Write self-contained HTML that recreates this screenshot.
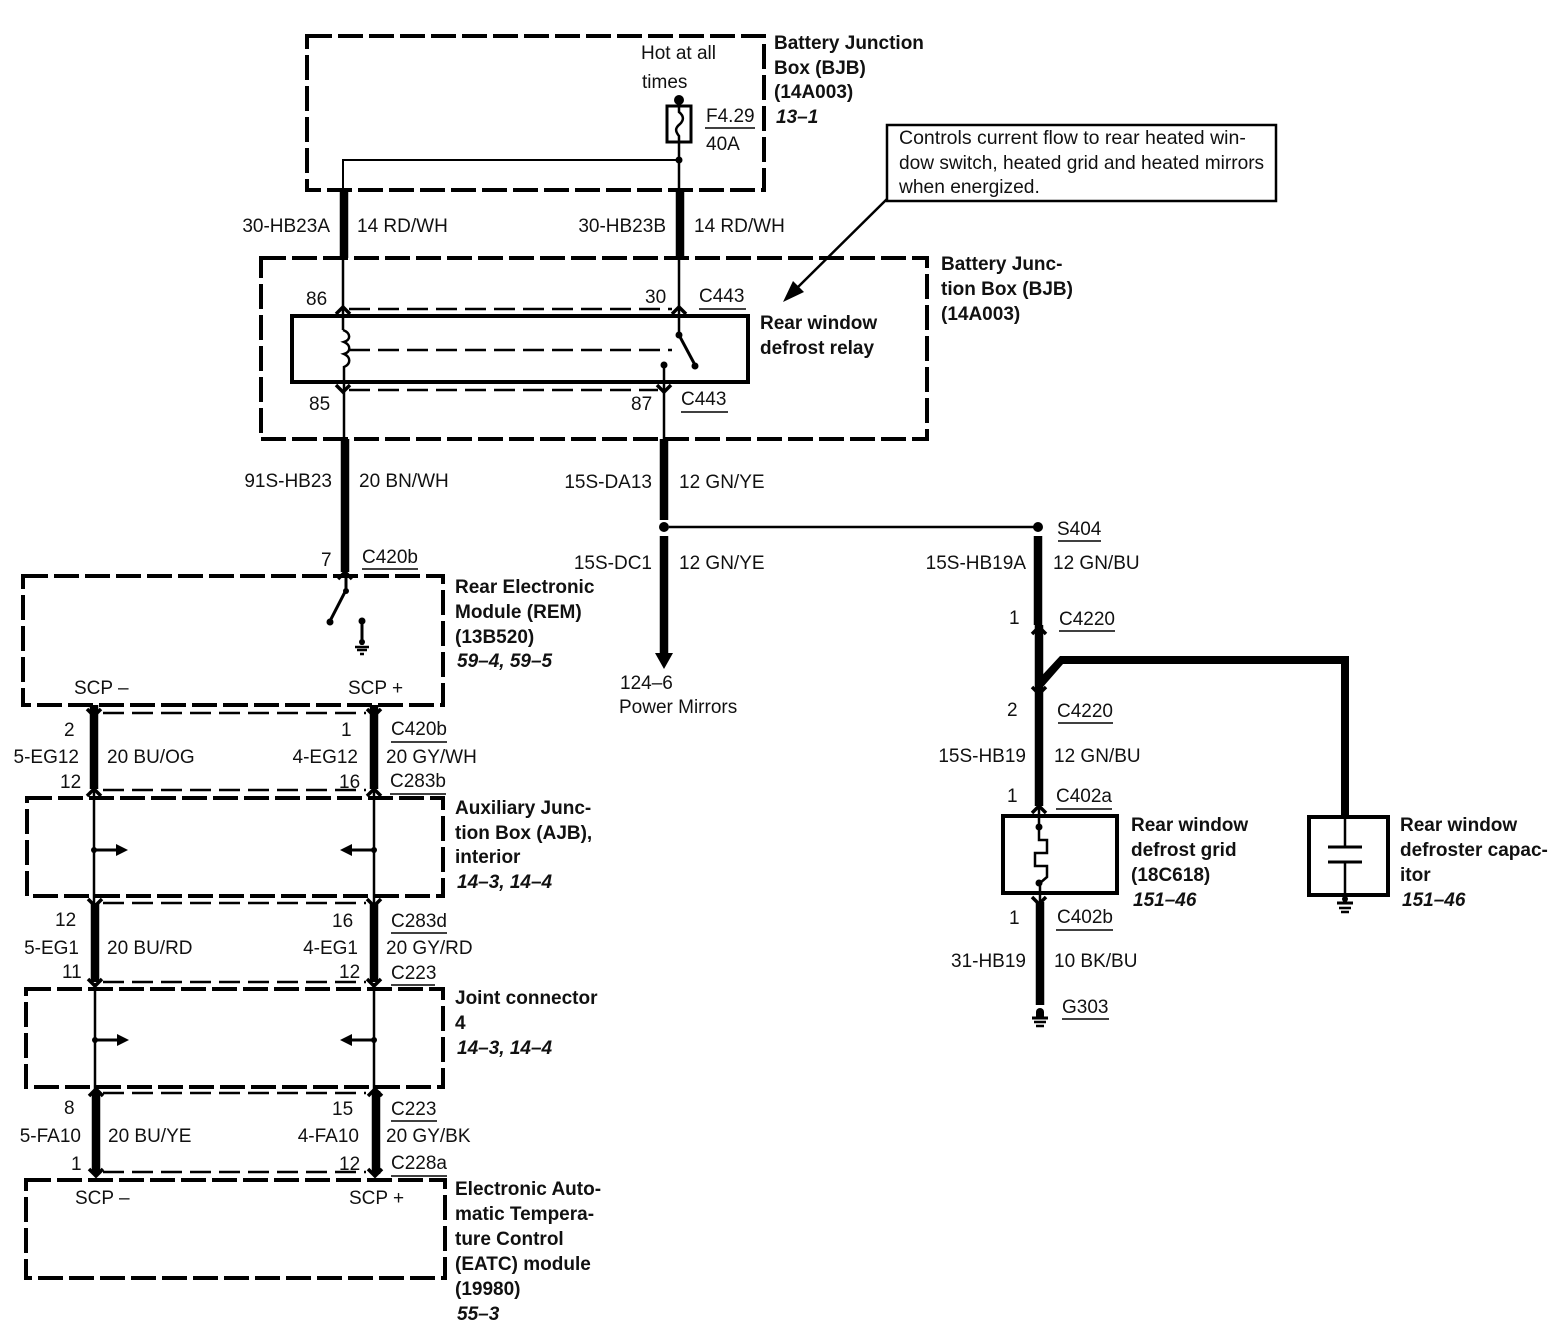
<!DOCTYPE html>
<html><head><meta charset="utf-8"><style>
html,body{margin:0;padding:0;background:#fff}
svg{display:block}
text{font-family:"Liberation Sans",sans-serif;font-size:19px;fill:#111}
.b{font-weight:bold;font-size:19px}
.i{font-weight:bold;font-style:italic;font-size:19px}
.e{text-anchor:end}
.box{fill:none;stroke:#000;stroke-width:4;stroke-dasharray:25 6}
.d{fill:none;stroke:#000;stroke-width:2.5;stroke-dasharray:21 8}
.t{fill:none;stroke:#000;stroke-width:2.5}
.k{fill:none;stroke:#000;stroke-width:8.5}
.s{fill:none;stroke:#000;stroke-width:4}
.c{fill:none;stroke:#000;stroke-width:3}
</style></head><body>
<svg width="1564" height="1344" viewBox="0 0 1564 1344" xmlns="http://www.w3.org/2000/svg">
<defs>
<path id="up" d="M-7 5L0 -2L7 5" fill="none" stroke="#000" stroke-width="3.5"/>
<path id="dn" d="M-7 -5L0 2L7 -5" fill="none" stroke="#000" stroke-width="3.5"/>
</defs>

<!-- dashed boxes -->
<rect class="box" x="307" y="36" width="457" height="154"/>
<rect class="box" x="261" y="258" width="666" height="181"/>
<rect class="box" x="23" y="576" width="420" height="129"/>
<rect class="box" x="27" y="798" width="416" height="98"/>
<rect class="box" x="26" y="989" width="417" height="98"/>
<rect class="box" x="26" y="1180" width="419" height="98"/>

<!-- solid boxes -->
<rect class="s" x="292" y="316" width="456" height="66"/>
<rect class="s" x="1003" y="816" width="114" height="77"/>
<rect class="s" x="1309" y="817" width="79" height="78"/>
<rect x="887" y="125" width="389" height="76" fill="#fff" stroke="#000" stroke-width="2.5"/>

<!-- top fuse -->
<circle cx="679" cy="100" r="5"/>
<rect class="c" x="667" y="106" width="24" height="36"/>
<path class="t" d="M679 100V112C684 116 684 120 680 124C675 128 675 131 679 136V190"/>
<circle cx="679" cy="160" r="3.5"/>
<path class="t" style="stroke-width:2" d="M343 190V160H679"/>

<!-- upper wires -->
<path class="k" d="M344 190V258M680 190V258"/>
<path class="t" d="M343 258V330M679 258V335"/>
<path class="d" d="M349 309H672M349 390H658"/>
<path class="d" d="M349 350H672"/>
<use href="#up" x="343" y="309"/><use href="#up" x="679" y="309"/>
<use href="#dn" x="343" y="390"/><use href="#dn" x="664" y="390"/>
<path class="t" d="M343 330C351 333 351 340 344 342C351 345 351 352 344 354C351 357 351 364 344 367V439"/>
<circle cx="679" cy="335" r="3.5"/>
<path class="c" d="M679 335L695 365"/>
<circle cx="695" cy="366" r="3.5"/>
<circle cx="664" cy="365" r="3.5"/>
<path class="t" d="M664 365V439"/>

<!-- relay outputs -->
<path class="k" d="M345 439V572M664 439V520M664 536V656"/>
<circle cx="664" cy="527" r="5"/>
<path class="t" d="M669 527H1038"/>
<circle cx="1038" cy="527" r="5"/>
<path d="M655 653H673L664 669Z"/>
<use href="#up" x="345" y="574"/>

<!-- REM internals -->
<path class="c" d="M346 576V590L330 621"/>
<circle cx="330" cy="622" r="3.5"/><circle cx="346" cy="591" r="3"/>
<circle cx="362" cy="621" r="3.5"/>
<path class="c" d="M362 621V645"/>
<circle cx="362" cy="642" r="3"/>
<path class="t" d="M355 647H369M357 650H367M360 654H364"/>

<!-- right wire -->
<path class="k" d="M1038 536V625M1039 625V806M1040 902V1005"/>
<path d="M1035 683L1060 656H1349V816H1341V664H1063L1042 688Z"/>
<use href="#up" x="1039" y="629"/><use href="#dn" x="1039" y="692"/>
<use href="#up" x="1039" y="808"/><use href="#dn" x="1039" y="902"/>
<path class="t" d="M1039 808V827L1039 840H1047V853H1035V866H1047V877L1040 883V902"/>
<circle cx="1039" cy="827" r="3.5"/><circle cx="1039" cy="883" r="3.5"/>
<circle cx="1040" cy="1012" r="4"/>
<path class="c" d="M1032 1018H1048"/><path class="t" d="M1034 1022H1046M1036 1026H1044"/>
<path d="M1036 1012H1044V1018H1036Z"/>

<!-- capacitor -->
<path class="c" d="M1328 847H1362M1328 862H1362"/>
<path class="t" d="M1345 816V847M1345 862V900"/>
<circle cx="1345" cy="899" r="3"/>
<path class="c" d="M1337 903H1353"/><path class="t" d="M1339 908H1351M1341 912H1349"/>

<!-- SCP wires -->
<path class="k" d="M94 705V789M374 705V789M95 903V982M374 903V982M96 1091V1174M376 1091V1174"/>
<path class="t" d="M94 790V905M374 790V905M95 983V1092M374 983V1092"/>
<path class="d" d="M103 713H366M103 790H366M103 903H366M103 982H366M103 1093H366M103 1172H366"/>
<use href="#dn" x="94" y="714"/><use href="#dn" x="374" y="714"/>
<use href="#up" x="94" y="791"/><use href="#up" x="374" y="791"/>
<use href="#dn" x="95" y="904"/><use href="#dn" x="374" y="904"/>
<use href="#dn" x="95" y="984"/><use href="#dn" x="374" y="984"/>
<use href="#up" x="96" y="1091"/><use href="#up" x="375" y="1091"/>
<use href="#dn" x="96" y="1174"/><use href="#dn" x="375" y="1174"/>

<!-- branch arrows -->
<g>
<circle cx="94" cy="850" r="3"/><path class="c" d="M94 850H118"/><path d="M116 844L128 850L116 856Z"/>
<circle cx="374" cy="850" r="3"/><path class="c" d="M374 850H350"/><path d="M352 844L340 850L352 856Z"/>
<circle cx="95" cy="1040" r="3"/><path class="c" d="M95 1040H119"/><path d="M117 1034L129 1040L117 1046Z"/>
<circle cx="374" cy="1040" r="3"/><path class="c" d="M374 1040H350"/><path d="M352 1034L340 1040L352 1046Z"/>
</g>

<!-- note arrow -->
<path class="t" d="M887 199L797 288"/>
<path d="M783 302L793 281L804 292Z"/>

<!-- underlines -->
<path class="t" style="stroke-width:1.5" d="M705 128H755M699 309H746M681 412H728M362 569H418M1058 541H1101M1059 631H1115M1058 723H1113M1056 809H1112M1056 930H1113M1062 1019H1109M391 742H447M390 794H446M391 933H447M391 985H435M391 1121H437M391 1176H447"/>

<!-- labels -->
<text x="641" y="59">Hot at all</text>
<text x="642" y="88">times</text>
<text x="706" y="122">F4.29</text>
<text x="706" y="150">40A</text>
<text class="b" x="774" y="49">Battery Junction</text>
<text class="b" x="774" y="74">Box (BJB)</text>
<text class="b" x="774" y="98">(14A003)</text>
<text class="i" x="776" y="123">13–1</text>

<text x="899" y="144" style="font-size:19.5px">Controls current flow to rear heated win-</text>
<text x="899" y="169" style="font-size:19.1px">dow switch, heated grid and heated mirrors</text>
<text x="899" y="193" style="font-size:19.2px">when energized.</text>

<text class="e" x="330" y="232">30-HB23A</text>
<text x="357" y="232">14 RD/WH</text>
<text class="e" x="666" y="232">30-HB23B</text>
<text x="694" y="232">14 RD/WH</text>

<text class="b" x="941" y="270">Battery Junc-</text>
<text class="b" x="941" y="295">tion Box (BJB)</text>
<text class="b" x="941" y="320">(14A003)</text>
<text class="b" x="760" y="329">Rear window</text>
<text class="b" x="760" y="354">defrost relay</text>

<text x="306" y="305">86</text>
<text x="645" y="303">30</text>
<text x="699" y="302">C443</text>
<text x="309" y="410">85</text>
<text x="631" y="410">87</text>
<text x="681" y="405">C443</text>

<text class="e" x="332" y="487">91S-HB23</text>
<text x="359" y="487">20 BN/WH</text>
<text class="e" x="652" y="488">15S-DA13</text>
<text x="679" y="488">12 GN/YE</text>
<text class="e" x="652" y="569">15S-DC1</text>
<text x="679" y="569">12 GN/YE</text>
<text x="1057" y="535">S404</text>
<text class="e" x="1026" y="569">15S-HB19A</text>
<text x="1053" y="569">12 GN/BU</text>
<text x="1009" y="624">1</text>
<text x="1059" y="625">C4220</text>
<text x="1007" y="716">2</text>
<text x="1057" y="717">C4220</text>
<text class="e" x="1026" y="762">15S-HB19</text>
<text x="1054" y="762">12 GN/BU</text>
<text x="1007" y="802">1</text>
<text x="1056" y="802">C402a</text>
<text x="1009" y="924">1</text>
<text x="1057" y="923">C402b</text>
<text class="e" x="1026" y="967">31-HB19</text>
<text x="1054" y="967">10 BK/BU</text>
<text x="1062" y="1013">G303</text>

<text class="b" x="1131" y="831">Rear window</text>
<text class="b" x="1131" y="856">defrost grid</text>
<text class="b" x="1131" y="881">(18C618)</text>
<text class="i" x="1133" y="906">151–46</text>
<text class="b" x="1400" y="831">Rear window</text>
<text class="b" x="1400" y="856">defroster capac-</text>
<text class="b" x="1400" y="881">itor</text>
<text class="i" x="1402" y="906">151–46</text>

<text x="321" y="566">7</text>
<text x="362" y="563">C420b</text>
<text class="b" x="455" y="593">Rear Electronic</text>
<text class="b" x="455" y="618">Module (REM)</text>
<text class="b" x="455" y="643">(13B520)</text>
<text class="i" x="457" y="667">59–4, 59–5</text>
<text x="74" y="694">SCP –</text>
<text x="348" y="694">SCP +</text>
<text x="620" y="689">124–6</text>
<text x="619" y="713">Power Mirrors</text>

<text x="64" y="736">2</text>
<text x="341" y="736">1</text>
<text x="391" y="735">C420b</text>
<text class="e" x="79" y="763">5-EG12</text>
<text x="107" y="763">20 BU/OG</text>
<text class="e" x="358" y="763">4-EG12</text>
<text x="386" y="763">20 GY/WH</text>
<text x="60" y="788">12</text>
<text x="339" y="788">16</text>
<text x="390" y="787">C283b</text>

<text class="b" x="455" y="814">Auxiliary Junc-</text>
<text class="b" x="455" y="839">tion Box (AJB),</text>
<text class="b" x="455" y="863">interior</text>
<text class="i" x="457" y="888">14–3, 14–4</text>

<text x="55" y="926">12</text>
<text x="332" y="927">16</text>
<text x="391" y="927">C283d</text>
<text class="e" x="79" y="954">5-EG1</text>
<text x="107" y="954">20 BU/RD</text>
<text class="e" x="358" y="954">4-EG1</text>
<text x="386" y="954">20 GY/RD</text>
<text x="62" y="978">11</text>
<text x="339" y="978">12</text>
<text x="391" y="979">C223</text>

<text class="b" x="455" y="1004">Joint connector</text>
<text class="b" x="455" y="1029">4</text>
<text class="i" x="457" y="1054">14–3, 14–4</text>

<text x="64" y="1114">8</text>
<text x="332" y="1115">15</text>
<text x="391" y="1115">C223</text>
<text class="e" x="81" y="1142">5-FA10</text>
<text x="108" y="1142">20 BU/YE</text>
<text class="e" x="359" y="1142">4-FA10</text>
<text x="386" y="1142">20 GY/BK</text>
<text x="71" y="1170">1</text>
<text x="339" y="1170">12</text>
<text x="391" y="1169">C228a</text>

<text x="75" y="1204">SCP –</text>
<text x="349" y="1204">SCP +</text>
<text class="b" x="455" y="1195">Electronic Auto-</text>
<text class="b" x="455" y="1220">matic Tempera-</text>
<text class="b" x="455" y="1245">ture Control</text>
<text class="b" x="455" y="1270">(EATC) module</text>
<text class="b" x="455" y="1295">(19980)</text>
<text class="i" x="457" y="1320">55–3</text>
</svg>
</body></html>
